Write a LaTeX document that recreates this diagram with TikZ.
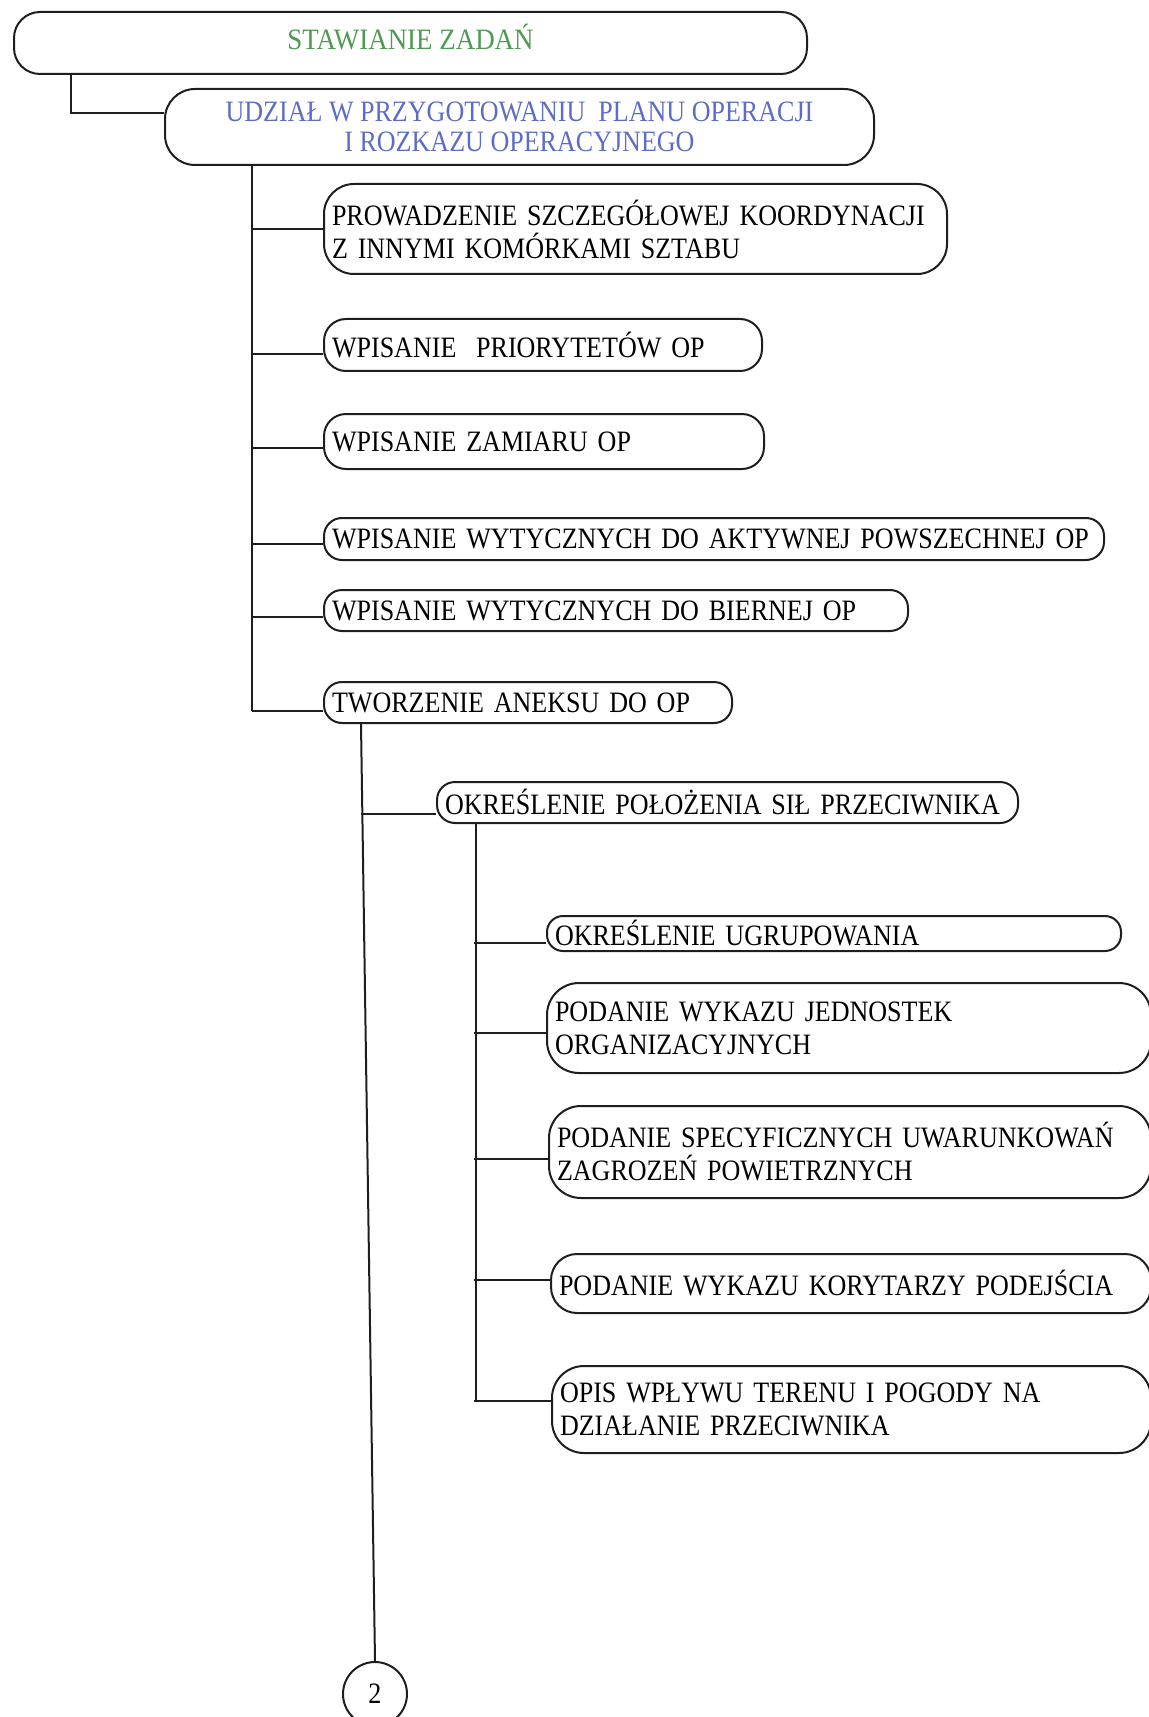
\documentclass[tikz,border=0pt]{standalone}
\usepackage{fontspec}
\setmainfont{Liberation Serif}[FakeStretch=0.88]
\newcommand\boxfont{\fontsize{14.8pt}{16.5pt}\selectfont}
\newcommand\headfont{\fontsize{14.8pt}{14.8pt}\selectfont}
\definecolor{titlegreen}{HTML}{4E9A52}
\definecolor{titleblue}{HTML}{5D6CC4}
\definecolor{ink}{HTML}{1E1E1E}
\begin{document}
\begin{tikzpicture}[x=0.5pt,y=-0.5pt,
  headbox/.style={draw=ink, line width=1pt, anchor=north west, inner sep=0pt,
    align=center, font=\headfont},
  itembox/.style={draw=ink, line width=1pt, anchor=north west, inner xsep=4pt,
    inner ysep=0pt, align=left, font=\boxfont},
  link/.style={draw=ink, line width=1pt},
  marker/.style={draw=ink, line width=1pt, circle, minimum size=32pt, inner sep=0pt,
    font=\boxfont}]
\useasboundingbox (0,0) rectangle (1148,1717);

% top level
\node[headbox, rounded corners=13pt, minimum width=396.5pt, minimum height=31pt,
  text=titlegreen] (B1) at (13,11)
  {\raisebox{6.5pt}{\addfontfeature{FakeStretch=0.91}STAWIANIE ZADAŃ}};
\node[headbox, rounded corners=15pt, minimum width=354.5pt, minimum height=38pt,
  text=titleblue] (B2) at (164,88)
  {UDZIAŁ W PRZYGOTOWANIU\ \ PLANU OPERACJI\\I ROZKAZU OPERACYJNEGO};

% second level
\node[itembox, rounded corners=15pt, text width=303.5pt, minimum height=45pt] (C1) at (323,183)
  {\mbox{PROWADZENIE SZCZEGÓŁOWEJ KOORDYNACJI}\\Z INNYMI KOMÓRKAMI SZTABU};
\node[itembox, rounded corners=11pt, text width=211pt, minimum height=26pt] (C2) at (323,318)
  {WPISANIE\ \ PRIORYTETÓW OP};
\node[itembox, rounded corners=11pt, text width=212pt, minimum height=27.5pt] (C3) at (323,413)
  {WPISANIE ZAMIARU OP};
\node[itembox, rounded corners=9pt, text width=382pt, minimum height=21pt] (C4) at (323,517)
  {\mbox{WPISANIE WYTYCZNYCH DO AKTYWNEJ POWSZECHNEJ OP}};
\node[itembox, rounded corners=9pt, text width=284pt, minimum height=20.5pt] (C5) at (323,589)
  {WPISANIE WYTYCZNYCH DO BIERNEJ OP};
\node[itembox, rounded corners=9pt, text width=196pt, minimum height=20.5pt] (C6) at (323,681)
  {TWORZENIE ANEKSU DO OP};

% third level
\node[itembox, rounded corners=9pt, text width=282.5pt, minimum height=20.5pt] (C7) at (436,781)
  {\mbox{OKREŚLENIE POŁOŻENIA SIŁ PRZECIWNIKA}};

% fourth level
\node[itembox, rounded corners=8pt, text width=279pt, minimum height=17.5pt] (S1) at (546,915)
  {OKREŚLENIE UGRUPOWANIA};
\node[itembox, rounded corners=16pt, text width=294pt, minimum height=45pt] (S2) at (546,982)
  {PODANIE WYKAZU JEDNOSTEK\\ORGANIZACYJNYCH};
\node[itembox, rounded corners=16pt, text width=293pt, minimum height=46pt] (S3) at (548,1105)
  {\mbox{PODANIE SPECYFICZNYCH UWARUNKOWAŃ}\\ZAGROZEŃ POWIETRZNYCH};
\node[itembox, rounded corners=13pt, text width=292pt, minimum height=29.5pt] (S4) at (550,1253)
  {\mbox{PODANIE WYKAZU KORYTARZY PODEJŚCIA}};
\node[itembox, rounded corners=16pt, text width=291.5pt, minimum height=43.5pt] (S5) at (551,1365)
  {OPIS WPŁYWU TERENU I POGODY NA\\DZIAŁANIE PRZECIWNIKA};

% continuation marker
\node[marker] (N2) at (375,1694) {2};

% trunk positions and branch corners
\coordinate (J1) at (71,113);
\coordinate (T1) at (252,0);
\coordinate (T2) at (361,0);
\coordinate (T3) at (476,0);
\coordinate (c1) at (C1.west);
\coordinate (c2) at ([yshift=-4.5pt]C2.west);
\coordinate (c3) at ([yshift=-3.25pt]C3.west);
\coordinate (c4) at ([yshift=-2.5pt]C4.west);
\coordinate (c5) at ([yshift=-3.25pt]C5.west);
\coordinate (c6) at ([yshift=-4.25pt]C6.west);
\coordinate (c7) at ([yshift=-5.75pt]C7.west);
\coordinate (s1) at ([yshift=-4.75pt]S1.west);
\coordinate (s2) at ([yshift=-2.5pt]S2.west);
\coordinate (s3) at ([yshift=-3.5pt]S3.west);
\coordinate (s4) at ([yshift=1.75pt]S4.west);
\coordinate (s5) at ([yshift=4.25pt]S5.west);

% connectors
\draw[link] (B1.south -| J1) -- (J1) -- (J1 -| B2.west);
\draw[link] (B2.south -| T1) -- (c6 -| T1);
\foreach \p in {c1,c2,c3,c4,c5,c6} \draw[link] (\p -| T1) -- (\p);
\draw[link] (C6.south -| T2) -- (N2.north);
\draw[link] (c7 -| T2) -- (c7);
\draw[link] (C7.south -| T3) -- (s5 -| T3);
\foreach \p in {s1,s2,s3,s4,s5} \draw[link] ([xshift=-1pt]\p -| T3) -- (\p);
\end{tikzpicture}
\end{document}
